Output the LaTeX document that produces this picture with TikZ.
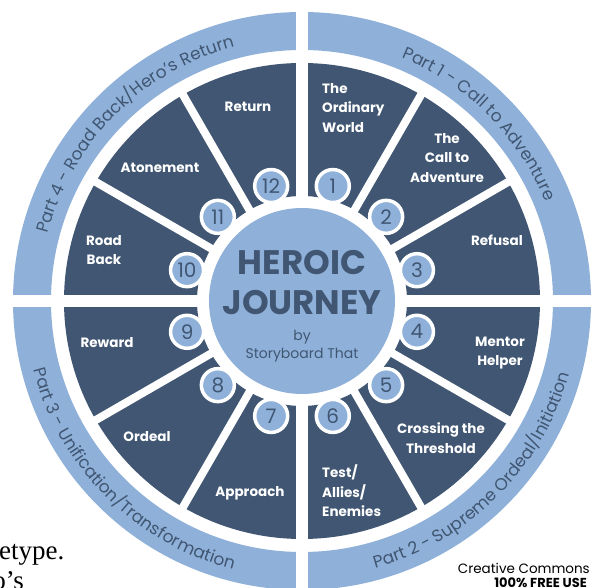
\documentclass[tikz,border=0pt]{standalone}
\usepackage{fontspec}
\setmainfont{Poppins}
\newfontfamily\pagefont{Liberation Serif}
\usetikzlibrary{decorations.text}
\definecolor{navy}{RGB}{64,86,114}
\definecolor{sky}{RGB}{143,177,217}
\newcommand{\ringfont}{\fontsize{17}{17}\selectfont\color{navy}}

\begin{document}
\begin{tikzpicture}[x=1pt,y=1pt,
  stage/.style={text=white, font=\fontsize{13.5}{19.5}\selectfont\bfseries, align=center, inner sep=0pt},
  badge/.style={circle, fill=sky, draw=white, line width=3.5pt, minimum size=33pt, inner sep=0pt,
    text=navy, font=\fontsize{20}{20}\selectfont},
  spoke/.style={white, line width=8pt},
  quadgap/.style={white, line width=12pt},
  ringtext/.style={decorate, decoration={text along path, text align=center, text={#1}}}
]
\useasboundingbox (-302,-287) rectangle (293,301);
\clip (-302,-287) rectangle (293,301);
\fill[white] (-302,-287) rectangle (293,301);

% outer ring holding the four parts
\fill[sky, even odd rule] (0,0) circle[radius=289pt] (0,0) circle[radius=251pt];
% ring of the twelve stages
\fill[navy, even odd rule] (0,0) circle[radius=238pt] (0,0) circle[radius=105pt];

% white spokes between stages, wider gaps between parts
\foreach \a in {30,60,120,150,210,240,300,330}
  \draw[spoke] (0,0) -- (\a:245pt);
\foreach \a in {0,90,180,270}
  \draw[quadgap] (0,0) -- (\a:300pt);

% hub
\node[circle, fill=sky, minimum size=186pt, inner sep=0pt] (hub) at (0,0) {};
\node[text=navy, font=\fontsize{34}{34}\selectfont\bfseries, inner sep=0pt] (title1) at (0,38) {HEROIC};
\node[text=navy, font=\fontsize{34}{34}\selectfont\bfseries, inner sep=0pt] (title2) at (0,-2) {JOURNEY};
\node[text=navy, font=\fontsize{14}{14}\selectfont, inner sep=0pt] (by) at (0,-36) {by};
\node[text=navy, font=\fontsize{14}{14}\selectfont, inner sep=0pt] (sbt) at (0,-54) {Storyboard That};

% numbered badges
\foreach \k in {1,...,12}
  \node[badge] (n\k) at ({75-30*(\k-1)}:119pt) {\k};

% stage labels
\node[stage, anchor=west, align=left] (s1) at (20,193) {The\\Ordinary\\World};
\node[stage] (s2) at (145,143) {The\\Call to\\Adventure};
\node[stage] (s3) at (195,61) {Refusal};
\node[stage] (s4) at (198,-52) {Mentor\\Helper};
\node[stage] (s5) at (139,-137) {Crossing the\\Threshold};
\node[stage, anchor=west, align=left] (s6) at (20,-190) {Test/\\Allies/\\Enemies};
\node[stage] (s7) at (-52,-192) {Approach};
\node[stage] (s8) at (-155,-136) {Ordeal};
\node[stage] (s9) at (-195,-42) {Reward};
\node[stage] (s10) at (-198,51) {Road\\Back};
\node[stage] (s11) at (-142,133) {Atonement};
\node[stage] (s12) at (-54,194) {Return};

% part titles along the outer ring
\path[ringtext={|\ringfont|Part 1 - Call to Adventure}]
  (90:263pt) arc[start angle=90, end angle=0, radius=263pt];
\path[ringtext={|\ringfont|Part 2 - Supreme Ordeal/Initiation}]
  (-90:277pt) arc[start angle=-90, end angle=0, radius=277pt];
\path[ringtext={|\ringfont|Part 3 - Unification/Transformation}]
  (180:277pt) arc[start angle=180, end angle=270, radius=277pt];
\path[ringtext={|\ringfont|Part 4 - Road Back/Hero’s Return}]
  (180:263pt) arc[start angle=180, end angle=90, radius=263pt];

% licence note
\node[anchor=east, inner sep=0pt, font=\fontsize{13.5}{13.5}\selectfont] (cc) at (288,-267) {Creative Commons};
\node[anchor=east, inner sep=0pt, font=\fontsize{13}{13}\selectfont\bfseries] (free) at (285,-282) {100\% FREE USE};

% words of the page underneath
\node[anchor=base west, inner sep=0pt, font=\pagefont\fontsize{27}{27}\selectfont] (w1) at (-303,-259) {etype.};
\node[anchor=base east, inner sep=0pt, font=\pagefont\fontsize{27}{27}\selectfont] (w2) at (-278,-289) {o’s};
\end{tikzpicture}
\end{document}
